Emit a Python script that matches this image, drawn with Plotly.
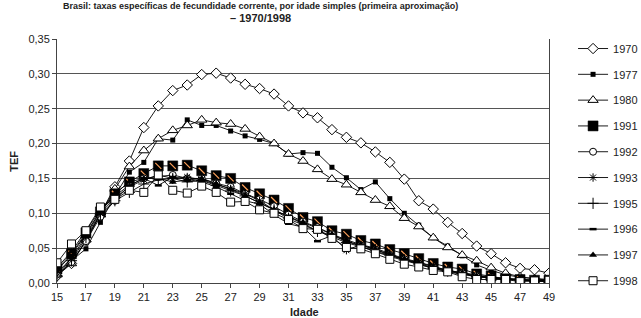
import plotly.graph_objects as go

ages = list(range(15, 50))
years = ["1970", "1977", "1980", "1991", "1992", "1993", "1995", "1996", "1997", "1998"]

tef_1970 = [0.010, 0.028, 0.060, 0.100, 0.138, 0.175, 0.223, 0.254, 0.276, 0.284,
            0.299, 0.301, 0.294, 0.285, 0.279, 0.271, 0.254, 0.244, 0.237, 0.220,
            0.209, 0.201, 0.188, 0.173, 0.149, 0.118, 0.106, 0.087, 0.071, 0.053,
            0.042, 0.029, 0.021, 0.019, 0.014]
tef_1977 = [0.015, 0.032, 0.049, 0.087, 0.125, 0.159, 0.173, 0.207, 0.205, 0.234,
            0.226, 0.226, 0.218, 0.211, 0.206, 0.200, 0.185, 0.187, 0.186, 0.166,
            0.151, 0.134, 0.145, 0.121, 0.100, 0.083, 0.065, 0.053, 0.039, 0.026,
            0.018, 0.012, 0.008, 0.006, 0.005]
tef_1980 = [0.012, 0.028, 0.062, 0.098, 0.135, 0.167, 0.190, 0.207, 0.219, 0.226,
            0.234, 0.230, 0.228, 0.221, 0.210, 0.200, 0.185, 0.175, 0.163, 0.149,
            0.141, 0.130, 0.119, 0.110, 0.093, 0.081, 0.065, 0.051, 0.040, 0.032,
            0.022, 0.014, 0.009, 0.006, 0.004]
tef_1991 = [0.020, 0.042, 0.072, 0.102, 0.128, 0.145, 0.157, 0.168, 0.168, 0.169,
            0.161, 0.154, 0.150, 0.137, 0.128, 0.119, 0.107, 0.094, 0.088, 0.075,
            0.070, 0.061, 0.056, 0.048, 0.042, 0.035, 0.028, 0.023, 0.020, 0.013,
            0.010, 0.006, 0.005, 0.004, 0.004]
tef_1992 = [0.012, 0.030, 0.060, 0.095, 0.118, 0.140, 0.150, 0.152, 0.155, 0.150,
            0.150, 0.143, 0.138, 0.128, 0.120, 0.110, 0.098, 0.088, 0.080, 0.070,
            0.060, 0.054, 0.048, 0.040, 0.034, 0.028, 0.022, 0.018, 0.014, 0.010,
            0.008, 0.006, 0.004, 0.003, 0.003]
tef_1993 = [0.015, 0.035, 0.068, 0.100, 0.122, 0.138, 0.148, 0.155, 0.150, 0.152,
            0.148, 0.142, 0.135, 0.128, 0.118, 0.105, 0.095, 0.085, 0.075, 0.068,
            0.047, 0.055, 0.050, 0.042, 0.035, 0.030, 0.024, 0.018, 0.015, 0.011,
            0.008, 0.006, 0.004, 0.003, 0.002]
tef_1995 = [0.010, 0.032, 0.065, 0.098, 0.118, 0.130, 0.142, 0.148, 0.150, 0.145,
            0.147, 0.140, 0.132, 0.125, 0.115, 0.105, 0.092, 0.083, 0.074, 0.066,
            0.058, 0.052, 0.046, 0.040, 0.033, 0.027, 0.021, 0.017, 0.013, 0.009,
            0.007, 0.005, 0.004, 0.003, 0.002]
tef_1996 = [0.018, 0.040, 0.070, 0.103, 0.125, 0.140, 0.150, 0.140, 0.152, 0.148,
            0.145, 0.138, 0.128, 0.118, 0.113, 0.098, 0.085, 0.080, 0.060, 0.068,
            0.060, 0.052, 0.045, 0.038, 0.032, 0.026, 0.021, 0.016, 0.012, 0.009,
            0.007, 0.005, 0.004, 0.003, 0.002]
tef_1997 = [0.022, 0.045, 0.075, 0.105, 0.128, 0.145, 0.150, 0.150, 0.145, 0.148,
            0.150, 0.142, 0.135, 0.125, 0.115, 0.105, 0.095, 0.087, 0.078, 0.070,
            0.062, 0.055, 0.048, 0.040, 0.034, 0.029, 0.023, 0.018, 0.014, 0.010,
            0.008, 0.006, 0.005, 0.004, 0.003]
tef_1998 = [0.029, 0.056, 0.075, 0.109, 0.120, 0.133, 0.130, 0.155, 0.133, 0.129,
            0.139, 0.130, 0.116, 0.117, 0.105, 0.100, 0.091, 0.078, 0.077, 0.064,
            0.051, 0.049, 0.042, 0.034, 0.027, 0.023, 0.018, 0.016, 0.009, 0.005,
            0.005, 0.005, 0.002, 0.003, 0.004]

series = [tef_1970, tef_1977, tef_1980, tef_1991, tef_1992,
          tef_1993, tef_1995, tef_1996, tef_1997, tef_1998]

# marker styles: (symbol, size, fill, line width)
styles = {
    "1970": ("diamond", 8, "white", 1),
    "1977": ("square", 5, "black", 0),
    "1980": ("triangle-up", 9, "white", 1),
    "1991": ("square", 10, "black", 0.5),
    "1992": ("circle", 7, "white", 1),
    "1993": ("asterisk-open", 7, "black", 1),
    "1995": ("cross-thin-open", 8, "black", 1),
    "1996": ("line-ew-open", 5, "black", 2.5),
    "1997": ("triangle-up", 7, "black", 0),
    "1998": ("square", 8, "white", 1),
}

fig = go.Figure()
for yr, vals in zip(years, series):
    sym, size, fill, lw = styles[yr]
    fig.add_trace(go.Scatter(
        x=ages, y=vals, name=yr, mode="lines+markers",
        legendgroup=yr,
        line=dict(color="black", width=0.9),
        marker=dict(symbol=sym, size=size, color=fill,
                    line=dict(color="black", width=lw)),
    ))
    if yr == "1991":
        fig.add_trace(go.Scatter(
            x=ages, y=vals, mode="markers", legendgroup=yr, showlegend=False,
            hoverinfo="skip",
            marker=dict(symbol="line-nw-open", size=6,
                        line=dict(color="white", width=1.2)),
        ))

font = "Liberation Sans, Arial, sans-serif"
fig.update_layout(
    width=641, height=318,
    margin=dict(l=57, r=92, t=39, b=35),
    paper_bgcolor="white", plot_bgcolor="white",
    separators=", ",
    font=dict(family=font, size=11, color="#222"),
    showlegend=True,
    legend=dict(
        xref="container", yref="container",
        x=0.894, y=0.893, xanchor="left", yanchor="top",
        traceorder="grouped", tracegroupgap=6.8,
        font=dict(size=11, color="#222"),
        bgcolor="rgba(0,0,0,0)", itemwidth=30,
        maxheight=318,
    ),
    xaxis=dict(
        range=[15, 49], tickmode="array", tickvals=ages[::2],
        ticks="outside", ticklen=4, tickcolor="#444",
        showline=True, linecolor="#444", linewidth=1,
        showgrid=False, zeroline=False,
        tickfont=dict(size=11, color="#222"),
    ),
    yaxis=dict(
        range=[0, 0.35], dtick=0.05, tickformat=".2f",
        ticks="outside", ticklen=4, tickcolor="#444",
        showline=True, mirror=True, linecolor="#444", linewidth=1,
        showgrid=True, gridcolor="#555", gridwidth=1,
        zeroline=False,
        tickfont=dict(size=11, color="#222"),
    ),
    annotations=[
        dict(text="<b>Brasil: taxas específicas de fecundidade corrente, por idade simples (primeira aproximação)</b>",
             xref="paper", yref="paper", x=0.413, y=(283 - 6) / 244, xanchor="center", yanchor="middle",
             showarrow=False, font=dict(size=9, color="#222")),
        dict(text="<b>– 1970/1998</b>",
             xref="paper", yref="paper", x=0.413, y=(283 - 18) / 244, xanchor="center", yanchor="middle",
             showarrow=False, font=dict(size=11, color="#222")),
        dict(text="<b>TEF</b>", xref="paper", yref="paper", x=-0.088, y=0.5,
             textangle=-90, xanchor="center", yanchor="middle",
             showarrow=False, font=dict(size=11, color="#222")),
        dict(text="<b>Idade</b>", xref="paper", yref="paper", x=0.504, y=-0.118,
             xanchor="center", yanchor="middle",
             showarrow=False, font=dict(size=11, color="#222")),
    ],
)

fig.write_html("out.html")
